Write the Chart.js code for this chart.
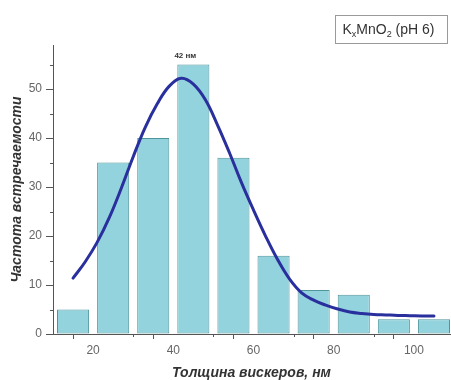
<!DOCTYPE html>
<html>
<head>
<meta charset="utf-8">
<script src="https://cdn.jsdelivr.net/npm/chart.js@4/dist/chart.umd.min.js"></script>
<style>
  html, body { margin: 0; padding: 0; background: #fff; }
  #wrap { width: 451px; height: 380px; position: relative; }
</style>
</head>
<body>
<div id="wrap"><canvas id="c"></canvas></div>
<script>
// Histogram bins (centre of each 10 nm bin) and counts
const binCentres = [15, 25, 35, 45, 55, 65, 75, 85, 95, 105];
const counts     = [5, 35, 40, 55, 36, 16, 9, 8, 3, 3];

// Fitted distribution curve, sampled every 3 nm
const fitX = [15, 18, 21, 24, 27, 30, 33, 36, 39, 42, 45, 48, 51, 54, 57, 60,
              63, 66, 69, 72, 75, 78, 81, 84, 87, 90, 93, 96, 99, 102, 105];
const fitY = [11.4, 14.7, 18.7, 23.7, 29.7, 36.2, 42.2, 47.0, 50.6, 52.2, 51.0, 47.8, 42.7, 37.0, 30.9, 25.3,
              20.0, 15.2, 11.2, 8.4, 6.9, 5.9, 5.1, 4.5, 4.2, 4.0, 3.9, 3.8, 3.75, 3.7, 3.7];

// Axis ticks
const xTickValues = [10, 20, 30, 40, 50, 60, 70, 80, 90, 100];
const xLabelled   = [20, 40, 60, 80, 100];
const yTickValues = [0, 5, 10, 15, 20, 25, 30, 35, 40, 45, 50, 55];
const yLabelled   = [0, 10, 20, 30, 40, 50];

const peakX = 42;
const peakLabel = '42 нм';
const xTitle = 'Толщина вискеров, нм';
const yTitle = 'Частота встречаемости';
// sample name, drawn with subscripts: [text, isSubscript]
const sampleParts = [['K', false], ['x', true], ['MnO', false], ['2', true], [' (pH 6)', false]];

const FONT = '"Liberation Sans", Arial, Helvetica, sans-serif';
const AXIS = '#555555';
const LABEL = '#666666';

const decor = {
  id: 'decor',
  afterDraw(chart) {
    const { ctx, chartArea: ca, scales: { x, y } } = chart;
    ctx.save();
    // minor ticks
    ctx.strokeStyle = AXIS;
    ctx.lineWidth = 1;
    ctx.beginPath();
    xTickValues.filter(v => !xLabelled.includes(v) && v > x.min).forEach(v => {
      const px = Math.round(x.getPixelForValue(v)) + 0.5;
      ctx.moveTo(px, ca.bottom);
      ctx.lineTo(px, ca.bottom + 3);
    });
    yTickValues.filter(v => !yLabelled.includes(v)).forEach(v => {
      const py = Math.round(y.getPixelForValue(v)) + 0.5;
      ctx.moveTo(ca.left - 3, py);
      ctx.lineTo(ca.left, py);
    });
    ctx.stroke();

    // peak annotation
    ctx.fillStyle = '#333';
    ctx.font = 'bold 8px ' + FONT;
    ctx.textAlign = 'center';
    ctx.textBaseline = 'middle';
    ctx.fillText(peakLabel, x.getPixelForValue(peakX) + 4, ca.top + 11);

    // sample box
    const bx = 335.5, by = 15.5, bw = 112, bh = 28;
    ctx.strokeStyle = '#9a9a9a';
    ctx.strokeRect(bx, by, bw, bh);
    ctx.textAlign = 'left';
    ctx.textBaseline = 'alphabetic';
    let tx = bx + 7;
    const base = by + 18;
    sampleParts.forEach(([t, sub]) => {
      ctx.font = (sub ? '9px ' : '14px ') + FONT;
      ctx.fillText(t, tx, sub ? base + 3 : base);
      tx += ctx.measureText(t).width;
    });
    ctx.restore();
  }
};

new Chart(document.getElementById('c'), {
  type: 'bar',
  data: {
    datasets: [
      {
        type: 'line',
        order: 0,
        data: fitX.map((v, i) => ({ x: v, y: fitY[i] })),
        borderColor: '#2a2f9e',
        borderWidth: 3,
        pointRadius: 0,
        fill: false,
        tension: 0.4,
        borderCapStyle: 'round',
        borderJoinStyle: 'round'
      },
      {
        type: 'bar',
        order: 1,
        data: binCentres.map((v, i) => ({ x: v, y: counts[i] })),
        backgroundColor: '#93d3dd',
        borderColor: '#4f959c',
        borderWidth: 1,
        borderSkipped: false,
        categoryPercentage: 1,
        barPercentage: 0.8
      }
    ]
  },
  options: {
    responsive: true,
    maintainAspectRatio: false,
    animation: false,
    devicePixelRatio: 1,
    layout: { padding: { left: 0, top: 45, right: 1, bottom: 0 } },
    plugins: { legend: { display: false }, tooltip: { enabled: false }, title: { display: false } },
    scales: {
      x: {
        type: 'linear',
        min: 10,
        max: 109,
        offset: false,
        afterBuildTicks: a => { a.ticks = xTickValues.map(v => ({ value: v })); },
        afterFit: s => { s.height = 46; },
        ticks: {
          autoSkip: false,
          maxRotation: 0,
          padding: 4,
          color: LABEL,
          font: { family: FONT, size: 12 },
          callback: v => (xLabelled.includes(v) ? String(v) : '')
        },
        grid: {
          drawOnChartArea: false,
          tickLength: 5,
          tickColor: c => (c.tick && xLabelled.includes(c.tick.value) ? AXIS : 'rgba(0,0,0,0)')
        },
        border: { color: AXIS, width: 1 },
        title: {
          display: true,
          text: xTitle,
          color: '#333',
          font: { family: FONT, size: 14, weight: 'bold', style: 'italic' },
          padding: { top: 0, bottom: -2 }
        }
      },
      y: {
        min: 0,
        max: 59,
        afterBuildTicks: a => { a.ticks = yTickValues.map(v => ({ value: v })); },
        afterFit: s => { s.width = 53; },
        ticks: {
          autoSkip: false,
          padding: 4,
          color: LABEL,
          font: { family: FONT, size: 12 },
          callback: v => (yLabelled.includes(v) ? String(v) : '')
        },
        grid: {
          drawOnChartArea: false,
          tickLength: 7,
          tickColor: c => (c.tick && yLabelled.includes(c.tick.value) ? AXIS : 'rgba(0,0,0,0)')
        },
        border: { color: AXIS, width: 1 },
        title: {
          display: true,
          text: yTitle,
          color: '#333',
          font: { family: FONT, size: 14, weight: 'bold', style: 'italic' },
          padding: { top: 9, bottom: 0 }
        }
      }
    }
  },
  plugins: [decor]
});
</script>
</body>
</html>
